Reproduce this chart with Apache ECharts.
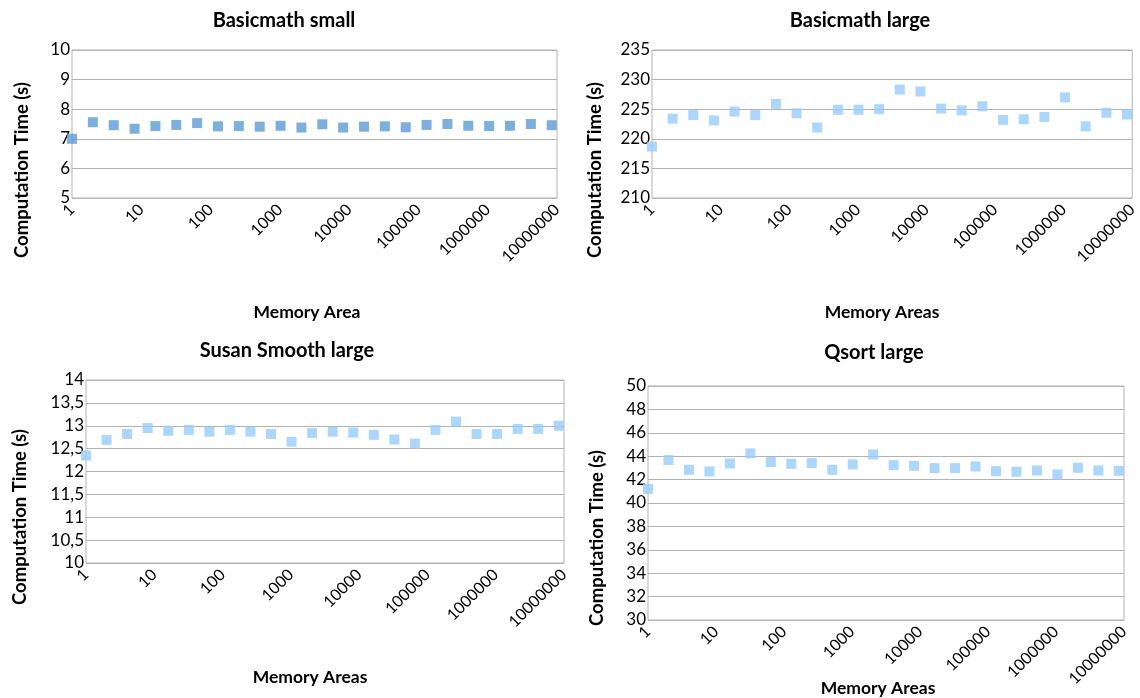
<!DOCTYPE html>
<html>
<head>
<meta charset="utf-8">
<title>Computation time vs memory areas</title>
<script src="https://cdn.jsdelivr.net/npm/echarts@6/dist/echarts.min.js"></script>
<style>
    html, body { margin: 0; padding: 0; background: #fff; }
    #chart { width: 1140px; height: 698px; }
</style>
</head>
<body>
<div id="chart"></div>
<script>
    // memory areas (x), powers of two from 1 to 2^23
    var memoryAreas = [1, 2, 4, 8, 16, 32, 64, 128, 256, 512, 1024, 2048, 4096, 8192,
        16384, 32768, 65536, 131072, 262144, 524288, 1048576, 2097152, 4194304, 8388608];

    // computation time (s) per benchmark
    var basicmathSmall = [7.00, 7.56, 7.46, 7.34, 7.43, 7.47, 7.53, 7.42, 7.43, 7.41, 7.44, 7.38,
        7.49, 7.38, 7.41, 7.42, 7.39, 7.47, 7.50, 7.44, 7.43, 7.44, 7.50, 7.46];
    var basicmathLarge = [218.7, 223.4, 224.0, 223.1, 224.6, 224.0, 225.9, 224.3, 221.9, 224.9, 224.9, 225.0,
        228.3, 228.0, 225.1, 224.8, 225.5, 223.2, 223.3, 223.7, 227.0, 222.1, 224.4, 224.1];
    var susanSmoothLarge = [12.35, 12.69, 12.82, 12.95, 12.89, 12.91, 12.87, 12.91, 12.87, 12.82, 12.65, 12.84,
        12.87, 12.85, 12.80, 12.70, 12.61, 12.91, 13.09, 12.82, 12.82, 12.93, 12.93, 13.00];
    var qsortLarge = [41.21, 43.67, 42.84, 42.70, 43.38, 44.24, 43.50, 43.35, 43.41, 42.84, 43.30, 44.15,
        43.24, 43.18, 42.98, 42.98, 43.12, 42.72, 42.67, 42.78, 42.44, 43.01, 42.78, 42.75];

    var panelTitles = ['Basicmath small', 'Basicmath large', 'Susan Smooth large', 'Qsort large'];
    var xNames = ['Memory Area', 'Memory Areas', 'Memory Areas', 'Memory Areas'];
    var yName = 'Computation Time (s)';

    var FONT = 'Lato, "Open Sans", sans-serif';
    var GRID_COLOR = '#b3b3b3';

    var grids = [
        { left: 72, top: 50, width: 485, height: 148 },
        { left: 652, top: 50, width: 486, height: 148 },
        { left: 86, top: 380, width: 478, height: 183 },
        { left: 648, top: 386, width: 476, height: 234 }
    ];
    var yRanges = [
        { min: 5, max: 10, interval: 1 },
        { min: 210, max: 235, interval: 5 },
        { min: 10, max: 14, interval: 0.5 },
        { min: 30, max: 50, interval: 2 }
    ];
    var seriesData = [basicmathSmall, basicmathLarge, susanSmoothLarge, qsortLarge];
    var colors = ['#5b9bd5', '#99ccff', '#99ccff', '#99ccff'];

    // label positions (centre points)
    var titlePos = [[284, 11], [860, 11], [287, 341], [874, 343]];
    var yNamePos = [[22, 170], [595, 170], [20, 517], [597, 538]];
    var xNamePos = [[307, 312], [882, 312], [310, 677], [878, 688]];

    var chart = echarts.init(document.getElementById('chart'));

    var option = {
        animation: false,
        title: [],
        grid: [],
        xAxis: [],
        yAxis: [],
        series: [],
        graphic: []
    };

    for (var i = 0; i < 4; i++) {
        option.title.push({
            text: panelTitles[i],
            left: titlePos[i][0],
            top: titlePos[i][1],
            textAlign: 'center',
            padding: 0,
            textStyle: { fontFamily: FONT, fontWeight: 'bold', fontSize: 20, color: '#000' }
        });
        option.grid.push(Object.assign({ show: true, borderColor: GRID_COLOR, borderWidth: 1, backgroundColor: '#fff' }, grids[i]));
        option.xAxis.push({
            type: 'log',
            logBase: 10,
            gridIndex: i,
            min: 1,
            max: 10000000,
            splitNumber: 7,
            axisLine: { show: false },
            axisTick: { show: false },
            splitLine: { show: false },
            axisLabel: {
                rotate: 45,
                margin: 9,
                fontFamily: FONT,
                fontSize: 16,
                color: '#000',
                formatter: function (v) { return String(Math.round(v)); }
            }
        });
        option.yAxis.push({
            type: 'value',
            gridIndex: i,
            min: yRanges[i].min,
            max: yRanges[i].max,
            interval: yRanges[i].interval,
            axisLine: { show: false },
            axisTick: { show: false },
            splitLine: { lineStyle: { color: GRID_COLOR, width: 1 } },
            axisLabel: {
                margin: 2,
                fontFamily: FONT,
                fontSize: 17,
                color: '#000',
                formatter: function (v) { return String(v).replace('.', ','); }
            }
        });
        option.series.push({
            type: 'scatter',
            xAxisIndex: i,
            yAxisIndex: i,
            symbol: 'rect',
            symbolSize: 10,
            itemStyle: { color: colors[i] },
            data: memoryAreas.map(function (m, k) { return [m, seriesData[i][k]]; })
        });
        option.graphic.push({
            type: 'text',
            x: yNamePos[i][0],
            y: yNamePos[i][1],
            rotation: Math.PI / 2,
            style: {
                text: yName,
                textAlign: 'center',
                textVerticalAlign: 'middle',
                font: 'bold 18.5px ' + FONT,
                fill: '#000'
            }
        });
        option.graphic.push({
            type: 'text',
            x: xNamePos[i][0],
            y: xNamePos[i][1],
            style: {
                text: xNames[i],
                textAlign: 'center',
                textVerticalAlign: 'middle',
                font: 'bold 17.5px ' + FONT,
                fill: '#000'
            }
        });
    }

    chart.setOption(option);
</script>
</body>
</html>
